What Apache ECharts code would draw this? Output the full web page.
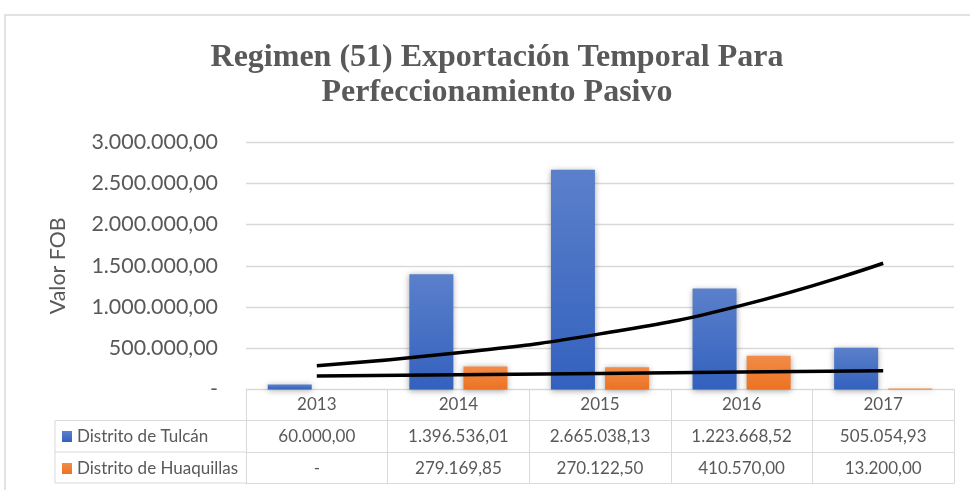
<!DOCTYPE html>
<html>
<head>
<meta charset="utf-8">
<script src="https://cdn.jsdelivr.net/npm/echarts@6/dist/echarts.min.js"></script>
<style>
  html, body { margin: 0; padding: 0; background: #fff; }
  #chart { width: 970px; height: 490px; }
</style>
</head>
<body>
<div id="chart"></div>
<script>
const years = ['2013', '2014', '2015', '2016', '2017'];
const tulcan = [60000.00, 1396536.01, 2665038.13, 1223668.52, 505054.93];
const huaquillas = [0, 279169.85, 270122.50, 410570.00, 13200.00];
// trend lines
const tulcanTrend = [288000, 445000, 674000, 1020000, 1530000];
const huaquillasTrend = [163000, 179000, 195000, 211000, 226000];

const fmt = (v) => {
    if (!v) return '-';
    const parts = v.toFixed(2).split('.');
    return parts[0].replace(/\B(?=(\d{3})+(?!\d))/g, '.') + ',' + parts[1];
};

const gray = '#595959';
const lineCol = '#d9d9d9';
const font = 'Lato';
const tableFont = 17;

const blueGrad = new echarts.graphic.LinearGradient(0, 0, 0, 1, [
    { offset: 0, color: '#5b80cb' }, { offset: 1, color: '#3361be' }
]);
const orangeGrad = new echarts.graphic.LinearGradient(0, 0, 0, 1, [
    { offset: 0, color: '#f28c48' }, { offset: 1, color: '#ec7222' }
]);

const tableAxis = (data, offset, showLabel) => ({
    type: 'category',
    data: data,
    position: 'bottom',
    offset: offset,
    axisLine: { show: true, lineStyle: { color: lineCol, width: 1 } },
    axisTick: { show: false },
    axisLabel: { show: showLabel, interval: 0, margin: 8, fontFamily: font, fontSize: tableFont, color: gray }
});

const chart = echarts.init(document.getElementById('chart'));
chart.setOption({
    animation: false,
    title: {
        text: 'Regimen (51) Exportación Temporal Para\nPerfeccionamiento Pasivo',
        left: 492,
        top: 35,
        textAlign: 'center',
        textStyle: { fontFamily: 'Liberation Serif', fontWeight: 'bold', fontSize: 32, lineHeight: 35, color: gray }
    },
    legend: {
        data: ['Distrito de Tulcán', 'Distrito de Huaquillas'],
        orient: 'vertical',
        left: 62,
        top: 428,
        padding: 0,
        itemWidth: 10,
        itemHeight: 11,
        itemGap: 15,
        icon: 'rect',
        textStyle: { fontFamily: font, fontSize: tableFont, lineHeight: 16, color: gray }
    },
    grid: { left: 246, top: 142, width: 708, height: 247.5 },
    xAxis: [
        {
            type: 'category',
            data: years,
            position: 'bottom',
            axisLine: { show: true, lineStyle: { color: lineCol, width: 1 } },
            axisTick: { show: true, length: 93.5, lineStyle: { color: lineCol, width: 1 } },
            axisLabel: { interval: 0, margin: 7, fontFamily: font, fontSize: tableFont, color: gray }
        },
        tableAxis(tulcan.map(fmt), 31, true),
        tableAxis(huaquillas.map(fmt), 62.5, true),
        tableAxis(years, 93.5, false)
    ],
    yAxis: {
        type: 'value',
        min: 0,
        max: 3000000,
        interval: 500000,
        name: 'Valor FOB',
        nameLocation: 'middle',
        nameRotate: 90,
        nameGap: 177,
        nameTextStyle: { fontFamily: font, fontSize: 21.4, color: gray },
        axisLine: { show: false },
        axisTick: { show: false },
        splitLine: { lineStyle: { color: lineCol, width: 1.3 } },
        axisLabel: { margin: 28, fontFamily: font, fontSize: 21.4, color: gray, formatter: fmt }
    },
    graphic: [
        { type: 'rect', shape: { x: 5, y: 15, width: 990, height: 500 }, style: { fill: 'none', stroke: lineCol, lineWidth: 1.5 }, silent: true },
        { type: 'line', shape: { x1: 55, y1: 420.5, x2: 246, y2: 420.5 }, style: { stroke: lineCol, lineWidth: 1 } },
        { type: 'line', shape: { x1: 55, y1: 452, x2: 246, y2: 452 }, style: { stroke: lineCol, lineWidth: 1 } },
        { type: 'line', shape: { x1: 55, y1: 483, x2: 246, y2: 483 }, style: { stroke: lineCol, lineWidth: 1 } },
        { type: 'line', shape: { x1: 55, y1: 420.5, x2: 55, y2: 483 }, style: { stroke: lineCol, lineWidth: 1 } }
    ],
    series: [
        {
            name: 'Distrito de Tulcán',
            type: 'bar',
            data: tulcan,
            barWidth: 44,
            barGap: '23%',
            itemStyle: { color: blueGrad, shadowBlur: 6, shadowColor: 'rgba(0,0,0,0.35)', shadowOffsetY: 1 }
        },
        {
            name: 'Distrito de Huaquillas',
            type: 'bar',
            data: huaquillas,
            barWidth: 44,
            itemStyle: { color: orangeGrad, shadowBlur: 6, shadowColor: 'rgba(0,0,0,0.35)', shadowOffsetY: 1 }
        },
        {
            name: 'trend Tulcán',
            type: 'line',
            data: tulcanTrend,
            smooth: true,
            symbol: 'none',
            silent: true,
            z: 5,
            lineStyle: { color: '#000', width: 3.5 }
        },
        {
            name: 'trend Huaquillas',
            type: 'line',
            data: huaquillasTrend,
            symbol: 'none',
            silent: true,
            z: 5,
            lineStyle: { color: '#000', width: 3.5 }
        }
    ]
});
</script>
</body>
</html>
